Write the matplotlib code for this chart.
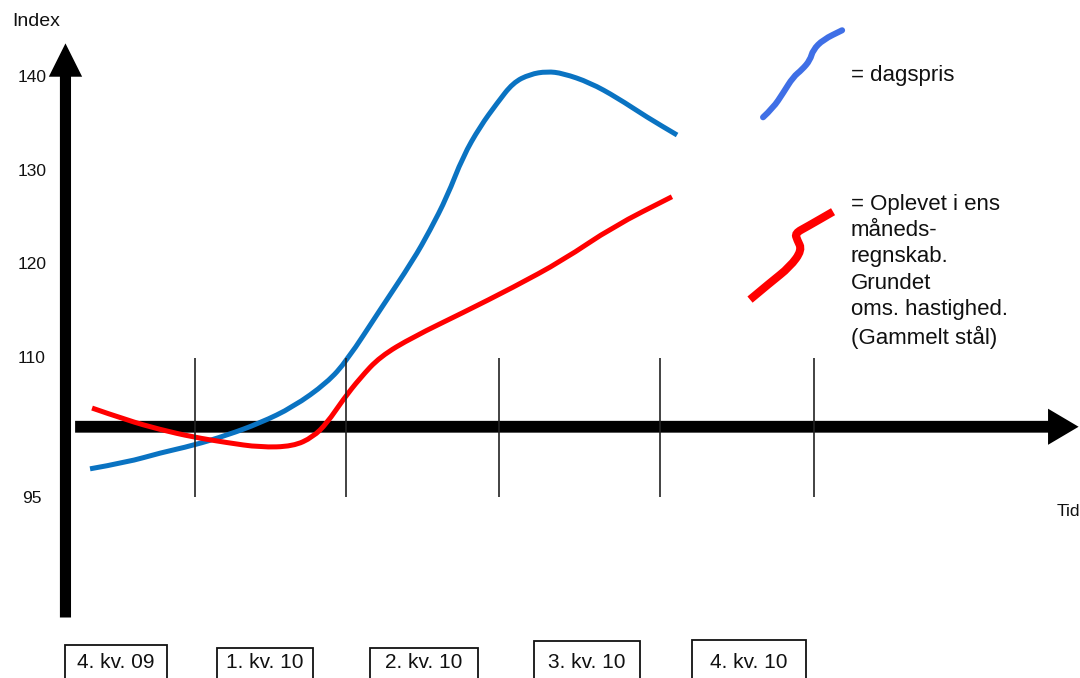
import matplotlib.pyplot as plt
from matplotlib.patches import FancyArrowPatch, PathPatch, Rectangle
from matplotlib.path import Path

plt.rcParams["font.family"] = ["Liberation Sans", "DejaVu Sans"]

# x in quarters (1 = border 4.kv.09 / 1.kv.10), y in index
blue_x = [0.343, 0.581, 0.793, 1.005, 1.224, 1.436, 1.648, 1.867, 1.996, 2.208,
          2.420, 2.529, 2.639, 2.741, 2.851, 2.960, 3.063, 3.172, 3.281, 3.384,
          3.558, 3.732, 3.925, 4.118]
blue_y = [98.2, 98.9, 99.9, 100.7, 101.8, 103.1, 104.8, 107.4, 109.8, 115.2,
          120.5, 123.7, 127.3, 131.6, 134.8, 137.3, 139.5, 140.4, 140.7, 140.5,
          139.5, 137.9, 135.8, 133.9]

red_x = [0.356, 0.581, 0.793, 1.005, 1.224, 1.436, 1.648, 1.777, 1.867, 1.970,
         2.079, 2.208, 2.420, 2.741, 3.063, 3.384, 3.706, 4.085]
red_y = [104.7, 103.4, 102.4, 101.6, 101.0, 100.5, 100.6, 101.6, 103.1, 105.6,
         107.9, 110.2, 112.3, 114.9, 117.6, 120.5, 124.1, 127.3]

# hand-drawn legend strokes
leg_blue_x = [4.671, 4.736, 4.800, 4.864, 4.922, 4.973, 4.992, 5.057, 5.179]
leg_blue_y = [135.8, 136.8, 138.4, 140.1, 140.9, 141.9, 143.0, 144.1, 145.1]
leg_red_x = [4.587, 4.716, 4.844, 4.922, 4.890, 4.877, 4.954, 5.121]
leg_red_y = [116.3, 118.1, 119.8, 121.6, 122.7, 123.4, 124.1, 125.7]

y_ticks = [140, 130, 120, 110, 95]
quarter_ticks = [1.02, 1.99, 2.97, 4.01, 5.0]
quarter_labels = ["4. kv. 09", "1. kv. 10", "2. kv. 10", "3. kv. 10", "4. kv. 10"]
box_left = [0.182, 1.159, 2.143, 3.198, 4.214]
box_right = [0.838, 1.777, 2.838, 3.880, 4.947]
box_top = [79.4, 79.0, 79.0, 79.8, 79.9]

base_level = 102.7


def smooth_stroke(ax, xs, ys, **kw):
    """Draw a polyline with its corners rounded off by quadratic curves."""
    verts = [(xs[0], ys[0])]
    codes = [Path.MOVETO]
    for i in range(1, len(xs) - 1):
        verts.append((xs[i], ys[i]))
        verts.append(((xs[i] + xs[i + 1]) / 2, (ys[i] + ys[i + 1]) / 2))
        codes += [Path.CURVE3, Path.CURVE3]
    verts.append((xs[-1], ys[-1]))
    codes.append(Path.LINETO)
    ax.add_patch(PathPatch(Path(verts, codes), fill=False, **kw))


fig = plt.figure(figsize=(10.8, 6.78), dpi=100)
ax = fig.add_axes([0, 0, 1, 1])
ax.set_xlim(-0.236, 6.709)
ax.set_ylim(75.83, 148.34)
ax.axis("off")

# axes arrows
ax.add_patch(FancyArrowPatch((0.185, 82.3), (0.185, 143.7),
                             arrowstyle="simple,head_length=24,head_width=24,tail_width=8",
                             mutation_scale=1, shrinkA=0, shrinkB=0,
                             color="black", lw=0))
ax.add_patch(FancyArrowPatch((0.247, base_level), (6.70, base_level),
                             arrowstyle="simple,head_length=22,head_width=26,tail_width=8.5",
                             mutation_scale=1, shrinkA=0, shrinkB=0,
                             color="black", lw=0))

ax.vlines(quarter_ticks, 95.2, 110.1, color="#222222", lw=1.2)

smooth_stroke(ax, blue_x, blue_y, ec="#0a73c2", lw=3.6, capstyle="butt")
smooth_stroke(ax, red_x, red_y, ec="#ff0000", lw=3.6, capstyle="butt")
smooth_stroke(ax, leg_blue_x, leg_blue_y, ec="#3f6fe6", lw=4.4, capstyle="round")
smooth_stroke(ax, leg_red_x, leg_red_y, ec="#ff0000", lw=5.8, capstyle="butt")

txt = dict(color="#111111")
ax.text(5.235, 140.3, "= dagspris", fontsize=16, va="center", ha="left", **txt)
ax.text(5.235, 127.6, "= Oplevet i ens\nmåneds-\nregnskab.\nGrundet\noms. hastighed.\n(Gammelt stål)",
        fontsize=16, va="top", ha="left", linespacing=1.33, **txt)

for v in y_ticks:
    ax.text(-0.03, v, str(v), fontsize=12.5, ha="center", va="center", **txt)
ax.text(-0.16, 146.0, "Index", fontsize=14, ha="left", va="center", **txt)
ax.text(6.56, 93.6, "Tid", fontsize=12.5, ha="left", va="center", **txt)

for l, r, t, lab in zip(box_left, box_right, box_top, quarter_labels):
    ax.add_patch(Rectangle((l, 70), r - l, t - 70, fill=False, ec="#111111", lw=1.3))
    ax.text((l + r) / 2, 77.5, lab, fontsize=15, ha="center", va="center", **txt)

fig.savefig("out.png", dpi=100)
